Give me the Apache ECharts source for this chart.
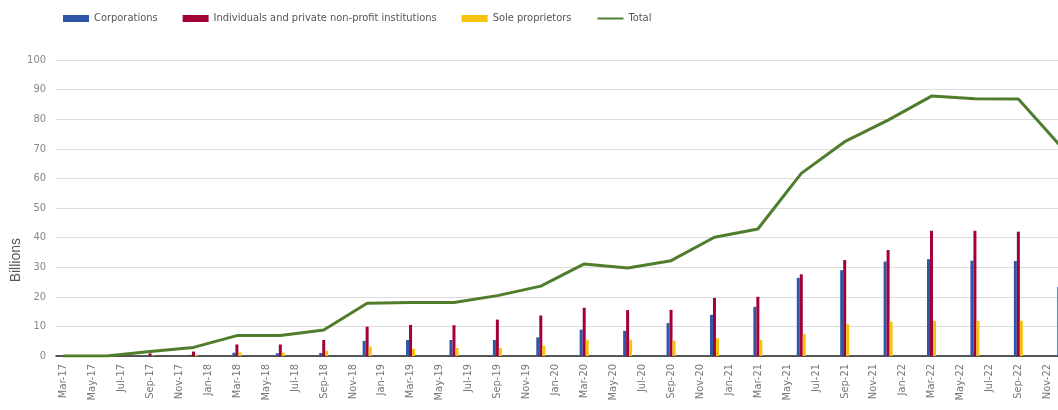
<!DOCTYPE html>
<html>
<head>
<meta charset="utf-8">
<title>Billions</title>
<script src="https://cdn.jsdelivr.net/npm/echarts@6/dist/echarts.min.js"></script>
<style>
  html, body { margin: 0; padding: 0; background: #fff; }
  #main { width: 1058px; height: 410px; }
</style>
</head>
<body>
<div id="main"></div>
<script>
// monthly categories, labels shown every second month
var months = ['Mar-17','Apr-17','May-17','Jun-17','Jul-17','Aug-17','Sep-17','Oct-17','Nov-17','Dec-17',
  'Jan-18','Feb-18','Mar-18','Apr-18','May-18','Jun-18','Jul-18','Aug-18','Sep-18','Oct-18','Nov-18','Dec-18',
  'Jan-19','Feb-19','Mar-19','Apr-19','May-19','Jun-19','Jul-19','Aug-19','Sep-19','Oct-19','Nov-19','Dec-19',
  'Jan-20','Feb-20','Mar-20','Apr-20','May-20','Jun-20','Jul-20','Aug-20','Sep-20','Oct-20','Nov-20','Dec-20',
  'Jan-21','Feb-21','Mar-21','Apr-21','May-21','Jun-21','Jul-21','Aug-21','Sep-21','Oct-21','Nov-21','Dec-21',
  'Jan-22','Feb-22','Mar-22','Apr-22','May-22','Jun-22','Jul-22','Aug-22','Sep-22','Oct-22','Nov-22','Dec-22'];

// quarterly observations
var quarters = ['Mar-17','Jun-17','Sep-17','Dec-17','Mar-18','Jun-18','Sep-18','Dec-18',
  'Mar-19','Jun-19','Sep-19','Dec-19','Mar-20','Jun-20','Sep-20','Dec-20',
  'Mar-21','Jun-21','Sep-21','Dec-21','Mar-22','Jun-22','Sep-22','Dec-22'];
var corporations = [0, 0, 0.3, 0.4, 1.1, 0.9, 1.0, 5.1, 5.4, 5.4, 5.4, 6.3, 8.9, 8.5, 11.1, 13.9, 16.6, 26.4, 29.0, 31.9, 32.7, 32.2, 32.1, 23.4];
var individuals  = [0, 0, 0.9, 1.5, 3.9, 3.9, 5.4, 9.9, 10.5, 10.4, 12.3, 13.7, 16.3, 15.5, 15.6, 19.6, 20.0, 27.6, 32.4, 35.8, 42.3, 42.3, 42.0, 36.0];
var soleProps    = [0, 0, 0.2, 0.5, 1.2, 1.1, 1.8, 3.2, 2.4, 2.7, 2.7, 3.5, 5.5, 5.5, 5.2, 6.0, 5.4, 7.4, 10.7, 11.6, 11.9, 11.9, 11.9, 11.0];
var total        = [0, 0, 1.5, 2.9, 6.9, 6.9, 8.8, 17.8, 18.1, 18.1, 20.4, 23.6, 31.1, 29.7, 32.2, 40.1, 42.9, 61.7, 72.4, 79.7, 87.8, 86.9, 86.8, 70.5];

var yTicks = [0, 10, 20, 30, 40, 50, 60, 70, 80, 90, 100];

// put quarterly values onto the monthly axis
var toMonthly = function (vals) {
  var out = months.map(function () { return null; });
  quarters.forEach(function (q, i) {
    out[months.indexOf(q)] = vals[i];
  });
  return out;
};

var narrow = "'Liberation Sans Narrow', 'DejaVu Sans Condensed', 'Roboto Condensed', sans-serif";

var chart = echarts.init(document.getElementById('main'));
chart.setOption({
  animation: false,
  backgroundColor: '#fff',
  legend: {
    left: 58,
    top: 8,
    itemWidth: 26,
    itemHeight: 7,
    itemGap: 25,
    textStyle: { fontFamily: narrow, fontSize: 11, color: '#555' },
    data: [
      { name: 'Corporations', icon: 'rect' },
      { name: 'Individuals and private non-profit institutions', icon: 'rect' },
      { name: 'Sole proprietors', icon: 'rect' },
      { name: 'Total', itemStyle: { opacity: 0, borderWidth: 0 } }
    ]
  },
  graphic: [{
    type: 'text',
    left: 9,
    top: 238,
    rotation: Math.PI / 2,
    style: { text: 'Billions', font: "14px 'Liberation Sans', Arial, sans-serif", fill: '#555' }
  }],
  // the plot runs a little past the right edge, as in the source image
  grid: { left: 56, right: -11, top: 60, bottom: 54, containLabel: false, outerBoundsMode: 'none' },
  xAxis: {
    type: 'category',
    data: months,
    boundaryGap: true,
    axisLine: { lineStyle: { color: '#222', width: 1.5 } },
    axisTick: { show: false },
    axisLabel: {
      interval: 1,
      rotate: 90,
      margin: 8,
      fontFamily: narrow,
      fontSize: 11,
      color: '#777'
    }
  },
  yAxis: {
    type: 'value',
    min: yTicks[0],
    max: yTicks[yTicks.length - 1],
    interval: 10,
    axisLine: { show: false },
    axisTick: { show: false },
    axisLabel: { fontFamily: narrow, fontSize: 11, color: '#888', margin: 10 },
    splitLine: { lineStyle: { color: '#dcdcdc', width: 1.2 } }
  },
  series: [
    {
      name: 'Corporations',
      type: 'bar',
      data: toMonthly(corporations),
      barWidth: 3,
      barGap: '0%',
      itemStyle: { color: '#2f57a7' }
    },
    {
      name: 'Individuals and private non-profit institutions',
      type: 'bar',
      data: toMonthly(individuals),
      barWidth: 3,
      barGap: '0%',
      itemStyle: { color: '#a3003a' }
    },
    {
      name: 'Sole proprietors',
      type: 'bar',
      data: toMonthly(soleProps),
      barWidth: 3,
      barGap: '0%',
      itemStyle: { color: '#f6c20d' }
    },
    {
      name: 'Total',
      type: 'line',
      data: toMonthly(total),
      connectNulls: true,
      symbol: 'none',
      lineStyle: { color: '#4f7d2c', width: 3 },
      itemStyle: { color: '#4f7d2c' }
    }
  ]
});
</script>
</body>
</html>
